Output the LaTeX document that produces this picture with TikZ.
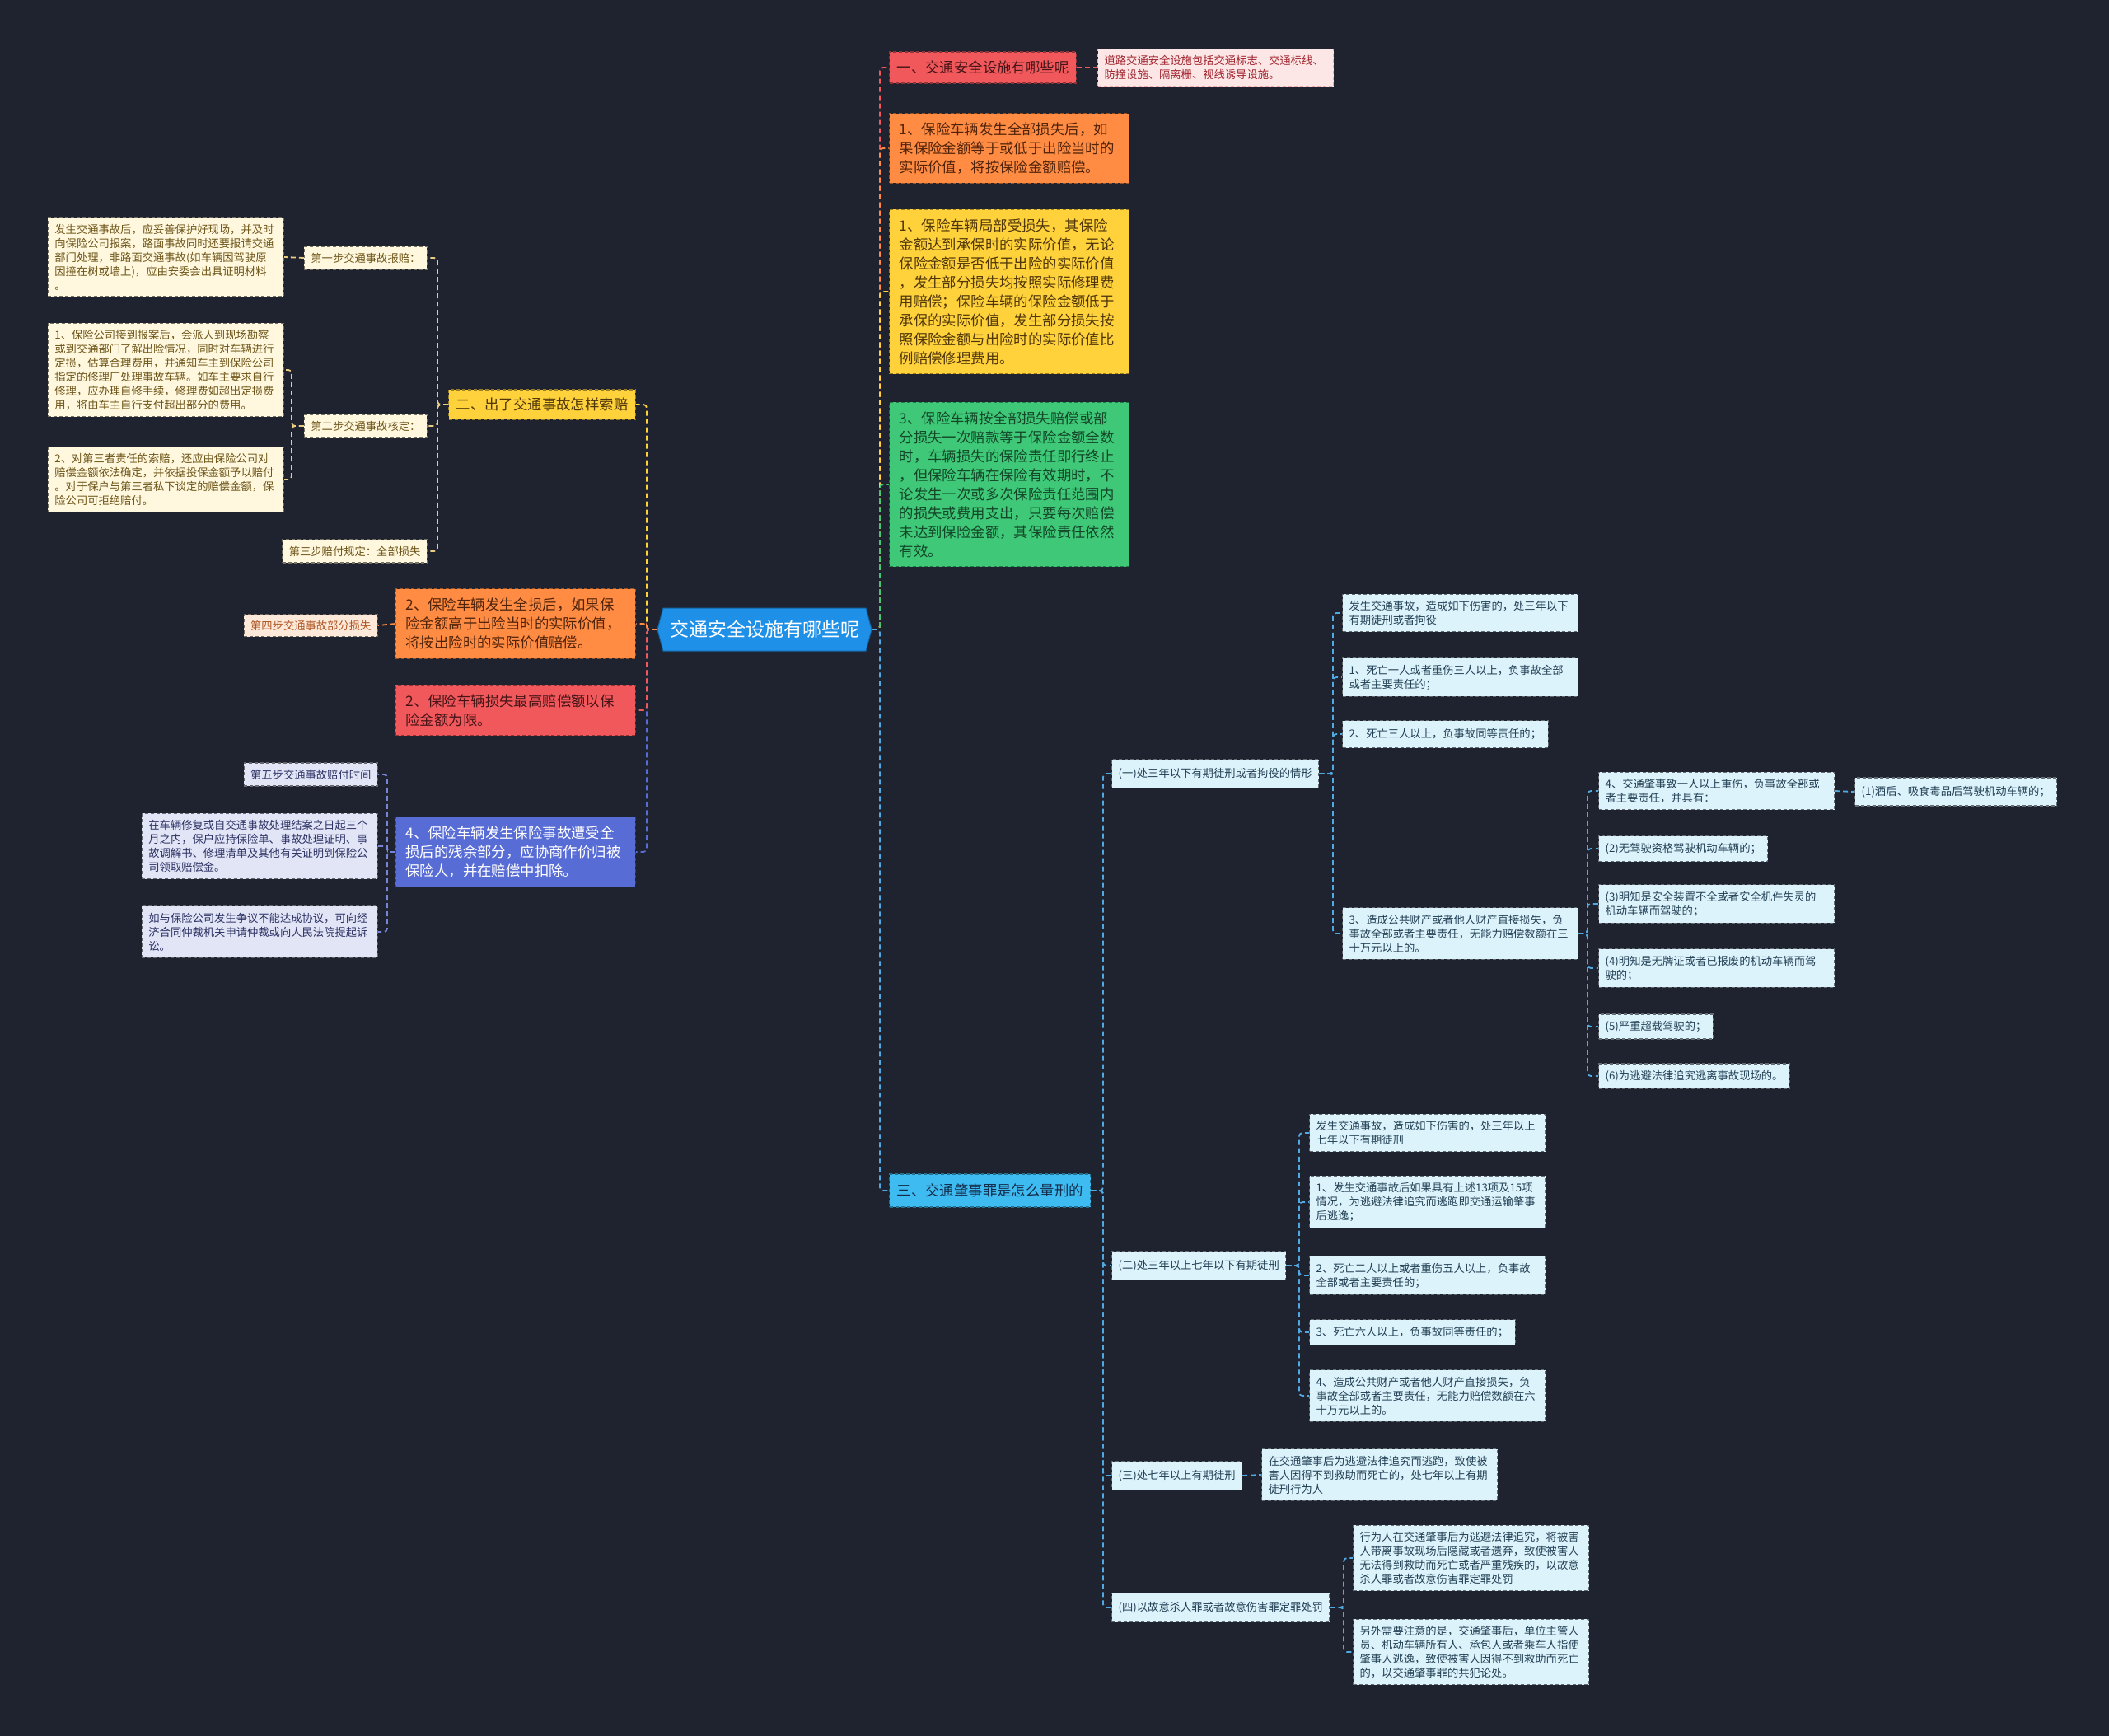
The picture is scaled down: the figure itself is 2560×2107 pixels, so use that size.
\documentclass[tikz,border=0pt]{standalone}
\usepackage{fontspec}
\setmainfont{Noto Sans CJK SC}
\usetikzlibrary{shapes.symbols}

\definecolor{bgdark}{RGB}{31,35,48}
\definecolor{cRoot}{RGB}{30,144,232}
\definecolor{cRed}{RGB}{240,88,92}
\definecolor{cOrange}{RGB}{255,140,66}
\definecolor{cYellow}{RGB}{255,210,60}
\definecolor{cGreen}{RGB}{62,200,120}
\definecolor{cSky}{RGB}{62,188,242}
\definecolor{cViolet}{RGB}{88,108,214}
\definecolor{cPink}{RGB}{253,230,230}
\definecolor{cPeach}{RGB}{253,233,218}
\definecolor{cCream}{RGB}{255,248,222}
\definecolor{cLilac}{RGB}{226,229,246}
\definecolor{cIce}{RGB}{221,243,252}
\definecolor{lSky}{RGB}{80,170,225}
\definecolor{lCream}{RGB}{235,205,130}
\definecolor{lLilac}{RGB}{120,132,214}
\definecolor{tOne}{RGB}{70,20,22}
\definecolor{tPink}{RGB}{160,35,45}
\definecolor{tOrange}{RGB}{80,35,10}
\definecolor{tYellow}{RGB}{80,55,10}
\definecolor{tGreen}{RGB}{20,70,40}
\definecolor{tSky}{RGB}{20,45,75}
\definecolor{tIce}{RGB}{35,65,85}
\definecolor{tCream}{RGB}{110,85,25}
\definecolor{tPeach}{RGB}{175,85,35}
\definecolor{tLilac}{RGB}{45,50,100}

\begin{document}
\begin{tikzpicture}[x=1pt, y=-1pt,
  box/.style={rectangle, draw, dash pattern=on 4pt off 3pt, line width=1.2pt, align=left},
  big/.style={box, font=\fontsize{17.4}{23}\selectfont, inner xsep=12pt, inner ysep=11pt},
  small/.style={box, font=\fontsize{13.3}{17}\selectfont, inner xsep=8pt, inner ysep=8pt},
  bigwidth/.style={text width=267pt},
  smallwidth/.style={text width=270pt},
  rootnode/.style={signal, signal to=east and west, signal pointer angle=150,
    fill=cRoot, draw=cRoot!70!black, line width=1pt, text=white,
    font=\fontsize{23}{28}\selectfont, minimum width=260pt, minimum height=52pt},
  redbox/.style={big, fill=cRed, draw=cRed!60!black, text=tOne},
  orangebox/.style={big, fill=cOrange, draw=cOrange!60!black, text=tOrange},
  yellowbox/.style={big, fill=cYellow, draw=cYellow!60!black, text=tYellow},
  greenbox/.style={big, fill=cGreen, draw=cGreen!60!black, text=tGreen},
  violetbox/.style={big, fill=cViolet, draw=cViolet!60!black, text=white},
  skybox/.style={big, fill=cSky, draw=cSky!60!black, text=tSky},
  pinkbox/.style={small, fill=cPink, draw=cRed!45!cPink, text=tPink},
  icebox/.style={small, fill=cIce, draw=cIce!45!black, text=tIce},
  creambox/.style={small, fill=cCream, draw=cCream!45!black, text=tCream},
  peachbox/.style={small, fill=cPeach, draw=cPeach!45!black, text=tPeach},
  lilacbox/.style={small, fill=cLilac, draw=cLilac!45!black, text=tLilac},
  link/.style={line width=1.8pt, dash pattern=on 6pt off 4pt, rounded corners=4pt}
]
% ---- 背景 ----
\useasboundingbox (0,0) rectangle (2560,2107);
\fill[bgdark] (0,0) rectangle (2560,2107);

% ---- 中心主题 ----
\node[rootnode] (root) at (928,764) {交通安全设施有哪些呢};

% ---- 右侧一级分支 ----
\node[redbox, anchor=west, minimum height=38pt, inner ysep=6pt, inner xsep=9pt] (one) at (1079,82) {一、交通安全设施有哪些呢};
\node[pinkbox, smallwidth, anchor=west] (onetxt) at (1332,82)
  {道路交通安全设施包括交通标志、交通标线、\\防撞设施、隔离栅、视线诱导设施。};
\node[orangebox, bigwidth, anchor=west] (whole) at (1079,180)
  {1、保险车辆发生全部损失后，如\\果保险金额等于或低于出险当时的\\实际价值，将按保险金额赔偿。};
\node[yellowbox, bigwidth, anchor=west] (part) at (1079,354)
  {1、保险车辆局部受损失，其保险\\金额达到承保时的实际价值，无论\\保险金额是否低于出险的实际价值\\，发生部分损失均按照实际修理费\\用赔偿；保险车辆的保险金额低于\\承保的实际价值，发生部分损失按\\照保险金额与出险时的实际价值比\\例赔偿修理费用。};
\node[greenbox, bigwidth, anchor=west] (once) at (1079,588)
  {3、保险车辆按全部损失赔偿或部\\分损失一次赔款等于保险金额全数\\时，车辆损失的保险责任即行终止\\，但保险车辆在保险有效期时，不\\论发生一次或多次保险责任范围内\\的损失或费用支出，只要每次赔偿\\未达到保险金额，其保险责任依然\\有效。};
\node[skybox, anchor=west, minimum height=40pt, inner ysep=6pt, inner xsep=9pt] (three) at (1079,1445) {三、交通肇事罪是怎么量刑的};

% ---- 三：量刑 ----
\node[icebox, anchor=west, minimum height=35pt] (lvA) at (1349,939) {(一)处三年以下有期徒刑或者拘役的情形};
\node[icebox, anchor=west, minimum height=35pt] (lvB) at (1349,1536) {(二)处三年以上七年以下有期徒刑};
\node[icebox, anchor=west, minimum height=35pt] (lvC) at (1349,1791) {(三)处七年以上有期徒刑};
\node[icebox, anchor=west, minimum height=35pt] (lvD) at (1349,1951) {(四)以故意杀人罪或者故意伤害罪定罪处罚};

\node[icebox, smallwidth, anchor=west] (a0) at (1629,744)
  {发生交通事故，造成如下伤害的，处三年以下\\有期徒刑或者拘役};
\node[icebox, smallwidth, anchor=west] (a1) at (1629,822)
  {1、死亡一人或者重伤三人以上，负事故全部\\或者主要责任的；};
\node[icebox, anchor=west, minimum height=33pt] (a2) at (1629,891) {2、死亡三人以上，负事故同等责任的；};
\node[icebox, smallwidth, anchor=west] (a3) at (1629,1133)
  {3、造成公共财产或者他人财产直接损失，负\\事故全部或者主要责任，无能力赔偿数额在三\\十万元以上的。};

\node[icebox, smallwidth, anchor=west] (c4) at (1940,960)
  {4、交通肇事致一人以上重伤，负事故全部或\\者主要责任，并具有：};
\node[icebox, anchor=west, minimum height=34pt] (c41) at (2251,961) {(1)酒后、吸食毒品后驾驶机动车辆的；};
\node[icebox, anchor=west, minimum height=31pt] (c42) at (1940,1030) {(2)无驾驶资格驾驶机动车辆的；};
\node[icebox, smallwidth, anchor=west] (c43) at (1940,1097)
  {(3)明知是安全装置不全或者安全机件失灵的\\机动车辆而驾驶的；};
\node[icebox, smallwidth, anchor=west] (c44) at (1940,1175)
  {(4)明知是无牌证或者已报废的机动车辆而驾\\驶的；};
\node[icebox, anchor=west, minimum height=28pt] (c45) at (1940,1246) {(5)严重超载驾驶的；};
\node[icebox, anchor=west, minimum height=29pt] (c46) at (1940,1306) {(6)为逃避法律追究逃离事故现场的。};

\node[icebox, smallwidth, anchor=west] (b0) at (1589,1375)
  {发生交通事故，造成如下伤害的，处三年以上\\七年以下有期徒刑};
\node[icebox, smallwidth, anchor=west] (b1) at (1589,1459)
  {1、发生交通事故后如果具有上述13项及15项\\情况，为逃避法律追究而逃跑即交通运输肇事\\后逃逸；};
\node[icebox, smallwidth, anchor=west] (b2) at (1589,1548)
  {2、死亡二人以上或者重伤五人以上，负事故\\全部或者主要责任的；};
\node[icebox, anchor=west, minimum height=31pt] (b3) at (1589,1617) {3、死亡六人以上，负事故同等责任的；};
\node[icebox, smallwidth, anchor=west] (b4) at (1589,1694)
  {4、造成公共财产或者他人财产直接损失，负\\事故全部或者主要责任，无能力赔偿数额在六\\十万元以上的。};

\node[icebox, smallwidth, anchor=west] (d0) at (1531,1790)
  {在交通肇事后为逃避法律追究而逃跑，致使被\\害人因得不到救助而死亡的，处七年以上有期\\徒刑行为人};

\node[icebox, smallwidth, anchor=west] (e0) at (1642,1891)
  {行为人在交通肇事后为逃避法律追究，将被害\\人带离事故现场后隐藏或者遗弃，致使被害人\\无法得到救助而死亡或者严重残疾的，以故意\\杀人罪或者故意伤害罪定罪处罚};
\node[icebox, smallwidth, anchor=west] (e1) at (1642,2005)
  {另外需要注意的是，交通肇事后，单位主管人\\员、机动车辆所有人、承包人或者乘车人指使\\肇事人逃逸，致使被害人因得不到救助而死亡\\的，以交通肇事罪的共犯论处。};

% ---- 左侧一级分支 ----
\node[yellowbox, anchor=east, minimum height=36pt, inner ysep=6pt, inner xsep=9pt] (claim) at (772,491) {二、出了交通事故怎样索赔};
\node[orangebox, bigwidth, anchor=east] (total) at (772,757)
  {2、保险车辆发生全损后，如果保\\险金额高于出险当时的实际价值，\\将按出险时的实际价值赔偿。};
\node[redbox, bigwidth, anchor=east] (limit) at (772,862)
  {2、保险车辆损失最高赔偿额以保\\险金额为限。};
\node[violetbox, bigwidth, anchor=east] (salvage) at (772,1034)
  {4、保险车辆发生保险事故遭受全\\损后的残余部分，应协商作价归被\\保险人，并在赔偿中扣除。};

% ---- 二：索赔步骤 ----
\node[creambox, anchor=east, minimum height=28pt, inner ysep=6pt] (step1) at (519,313) {第一步交通事故报赔：};
\node[creambox, smallwidth, anchor=east] (step1t) at (345,312)
  {发生交通事故后，应妥善保护好现场，并及时\\向保险公司报案，路面事故同时还要报请交通\\部门处理，非路面交通事故(如车辆因驾驶原\\因撞在树或墙上)，应由安委会出具证明材料\\。};
\node[creambox, anchor=east, minimum height=28pt, inner ysep=6pt] (step2) at (519,517) {第二步交通事故核定：};
\node[creambox, smallwidth, anchor=east] (step2a) at (345,449)
  {1、保险公司接到报案后，会派人到现场勘察\\或到交通部门了解出险情况，同时对车辆进行\\定损，估算合理费用，并通知车主到保险公司\\指定的修理厂处理事故车辆。如车主要求自行\\修理，应办理自修手续，修理费如超出定损费\\用，将由车主自行支付超出部分的费用。};
\node[creambox, smallwidth, anchor=east] (step2b) at (345,582)
  {2、对第三者责任的索赔，还应由保险公司对\\赔偿金额依法确定，并依据投保金额予以赔付\\。对于保户与第三者私下谈定的赔偿金额，保\\险公司可拒绝赔付。};
\node[creambox, anchor=east, minimum height=28pt, inner ysep=6pt] (step3) at (519,669) {第三步赔付规定：全部损失};

\node[peachbox, anchor=east, minimum height=27pt, inner ysep=6pt] (step4) at (459,759) {第四步交通事故部分损失};

\node[lilacbox, anchor=east, minimum height=28pt, inner ysep=6pt] (step5) at (459,940) {第五步交通事故赔付时间};
\node[lilacbox, smallwidth, anchor=east] (step5a) at (459,1027)
  {在车辆修复或自交通事故处理结案之日起三个\\月之内，保户应持保险单、事故处理证明、事\\故调解书、修理清单及其他有关证明到保险公\\司领取赔偿金。};
\node[lilacbox, smallwidth, anchor=east] (step5b) at (459,1131)
  {如与保险公司发生争议不能达成协议，可向经\\济合同仲裁机关申请仲裁或向人民法院提起诉\\讼。};

% ---- 连线：右侧 ----
\foreach \c/\col in {one/cRed, whole/cOrange, part/cYellow, once/cGreen, three/lSky}
  \draw[link, draw=\col] (root.east) -| ([xshift=-11pt]\c.west) -- (\c.west);
\draw[link, draw=cRed] (one.east) -- (onetxt.west);

\foreach \c in {lvA, lvB, lvC, lvD}
  \draw[link, draw=lSky] (three.east) -| ([xshift=-10pt]\c.west) -- (\c.west);
\foreach \c in {a0, a1, a2, a3}
  \draw[link, draw=lSky] (lvA.east) -| ([xshift=-11pt]\c.west) -- (\c.west);
\foreach \c in {c4, c42, c43, c44, c45, c46}
  \draw[link, draw=lSky] (a3.east) -| ([xshift=-13pt]\c.west) -- (\c.west);
\draw[link, draw=lSky] (c4.east) -- (c41.west);
\foreach \c in {b0, b1, b2, b3, b4}
  \draw[link, draw=lSky] (lvB.east) -| ([xshift=-12pt]\c.west) -- (\c.west);
\draw[link, draw=lSky] (lvC.east) -- (d0.west);
\foreach \c in {e0, e1}
  \draw[link, draw=lSky] (lvD.east) -| ([xshift=-11pt]\c.west) -- (\c.west);

% ---- 连线：左侧 ----
\foreach \c/\col in {claim/cYellow, salvage/cViolet, limit/cRed, total/cOrange}
  \draw[link, draw=\col] (root.west) -| ([xshift=13pt]\c.east) -- (\c.east);

\foreach \c in {step1, step2, step3}
  \draw[link, draw=lCream] (claim.west) -| ([xshift=12pt]\c.east) -- (\c.east);
\draw[link, draw=lCream] (step1.west) -- (step1t.east);
\foreach \c in {step2a, step2b}
  \draw[link, draw=lCream] (step2.west) -| ([xshift=9pt]\c.east) -- (\c.east);
\draw[link, draw=cOrange] (total.west) -- (step4.east);
\foreach \c in {step5, step5a, step5b}
  \draw[link, draw=lLilac] (salvage.west) -| ([xshift=11pt]\c.east) -- (\c.east);
\end{tikzpicture}
\end{document}
